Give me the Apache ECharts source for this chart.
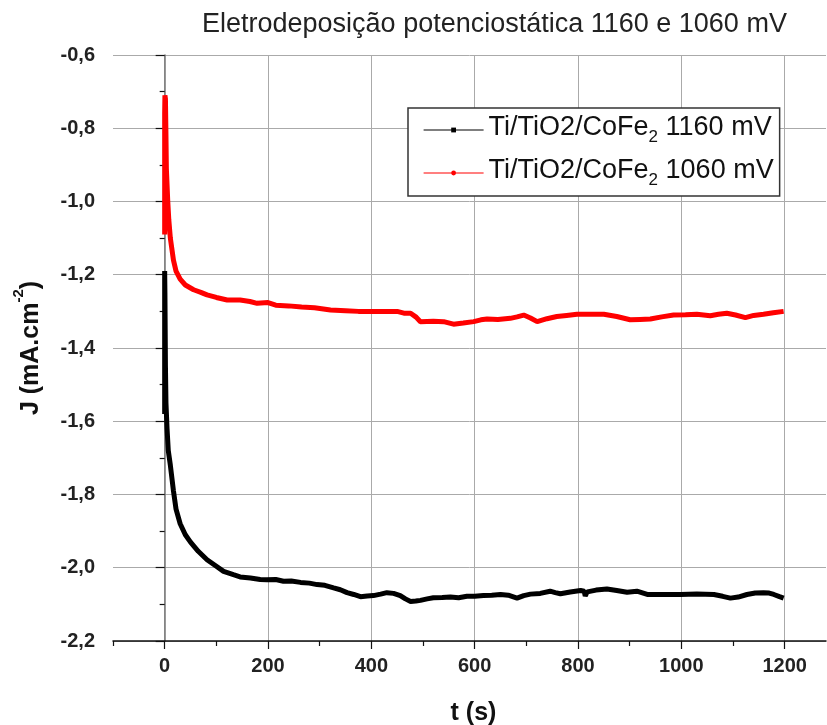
<!DOCTYPE html>
<html>
<head>
<meta charset="utf-8">
<script src="https://cdn.jsdelivr.net/npm/echarts@6/dist/echarts.min.js"></script>
<style>html,body{margin:0;padding:0;background:#fff}#c{width:827px;height:725px}</style>
</head>
<body>
<div id="c"></div>
<script>
// ---- data ----
var xTickLabels = [0, 200, 400, 600, 800, 1000, 1200];
var xMinorTicks = [-100, 100, 300, 500, 700, 900, 1100];

var time1160 = [0,0,0.5,1,1.5,2.5,4.6,7,11,17,22,30,40,50,65,82,100,114,133,146,166,185,198,215,230,245,263,280,295,310,327,340,353,366,379,392,404,418,430,443,456,466,476,486,495,508,520,537,553,569,585,600,617,633,650,665,682,695,708,727,746,756,766,785,805,812,814,818,835,856,875,895,914,934,965,998,1030,1063,1080,1095,1110,1127,1143,1159,1170,1179,1190,1198];
var j1160 = [-1.58,-1.19,-1.25,-1.35,-1.45,-1.55,-1.62,-1.68,-1.72,-1.79,-1.84,-1.88,-1.91,-1.93,-1.955,-1.978,-1.996,-2.01,-2.019,-2.025,-2.028,-2.032,-2.033,-2.032,-2.037,-2.036,-2.04,-2.042,-2.046,-2.048,-2.055,-2.06,-2.068,-2.073,-2.079,-2.077,-2.076,-2.072,-2.068,-2.07,-2.076,-2.085,-2.092,-2.091,-2.089,-2.085,-2.082,-2.081,-2.08,-2.082,-2.078,-2.078,-2.076,-2.075,-2.073,-2.075,-2.083,-2.076,-2.072,-2.07,-2.064,-2.068,-2.071,-2.066,-2.062,-2.064,-2.077,-2.066,-2.061,-2.058,-2.062,-2.067,-2.064,-2.073,-2.073,-2.073,-2.072,-2.073,-2.078,-2.083,-2.08,-2.073,-2.069,-2.068,-2.069,-2.073,-2.079,-2.083];

var time1060 = [0,0,0,0,0,0.5,1.5,2.5,3.3,6,8,11,14,17,22,30,40,56,70,82,100,121,146,165,179,200,215,240,265,290,321,350,375,398,425,450,463,476,486,495,520,540,559,578,598,612,624,645,669,682,695,708,721,740,759,778,798,825,850,875,901,920,940,962,985,1008,1030,1056,1072,1088,1105,1124,1140,1159,1178,1198];
var j1060 = [-1.09,-0.93,-0.86,-0.8,-0.76,-0.71,-0.72,-0.82,-0.91,-1.0,-1.05,-1.1,-1.13,-1.16,-1.19,-1.212,-1.228,-1.241,-1.248,-1.255,-1.262,-1.269,-1.269,-1.273,-1.278,-1.276,-1.283,-1.285,-1.288,-1.29,-1.296,-1.298,-1.3,-1.3,-1.3,-1.3,-1.305,-1.305,-1.315,-1.328,-1.327,-1.328,-1.335,-1.332,-1.328,-1.323,-1.321,-1.322,-1.319,-1.315,-1.31,-1.318,-1.328,-1.32,-1.314,-1.311,-1.308,-1.308,-1.308,-1.314,-1.323,-1.322,-1.321,-1.315,-1.31,-1.309,-1.308,-1.312,-1.308,-1.305,-1.31,-1.317,-1.311,-1.308,-1.304,-1.3];

var name1160 = 'Ti/TiO2/CoFe2 1160 mV';
var name1060 = 'Ti/TiO2/CoFe2 1060 mV';

function pairs(t, v) { return t.map(function (x, i) { return [x, v[i]]; }); }

var chart = echarts.init(document.getElementById('c'));
var font = 'Liberation Sans, Arial, sans-serif';
chart.setOption({
  animation: false,
  backgroundColor: '#fff',
  title: {
    text: 'Eletrodeposição potenciostática 1160 e 1060 mV',
    left: 197, top: 6,
    textStyle: { fontFamily: font, fontSize: 27, fontWeight: 'normal', color: '#222' }
  },
  grid: { left: 113, top: 55, right: 1, bottom: 84, containLabel: false, outerBoundsMode: 'none' },
  legend: {
    orient: 'vertical', left: 408, top: 108,
    backgroundColor: '#fff', borderColor: '#333', borderWidth: 1.5, borderRadius: 0,
    padding: [6, 6, 7, 15], itemGap: 11, itemWidth: 60, itemHeight: 6,
    lineStyle: { width: 1.2 },
    data: [name1160, name1060],
    formatter: function (n) {
      var parts = n.split('CoFe2');
      return '{a|' + parts[0] + 'CoFe}{s|2}{a|' + parts[1] + '}';
    },
    textStyle: {
      fontFamily: font, color: '#111',
      rich: {
        a: { fontFamily: font, fontSize: 27, color: '#111', lineHeight: 32, verticalAlign: 'bottom', padding: [0, 0, 5, 0] },
        s: { fontFamily: font, fontSize: 17, color: '#111', lineHeight: 32, verticalAlign: 'bottom' }
      }
    }
  },
  xAxis: [{
    type: 'value', min: -100, max: 1280,
    name: 't (s)', nameLocation: 'middle', nameGap: 60,
    nameTextStyle: { fontFamily: font, fontSize: 25, fontWeight: 'bold', color: '#111', padding: [0, 0, 0, 8] },
    axisLine: { show: true, lineStyle: { color: '#111', width: 1.5 } },
    axisTick: { show: true, inside: false, length: 8, customValues: xTickLabels, lineStyle: { color: '#111', width: 1.2 } },
    axisLabel: {
      show: true, customValues: xTickLabels, margin: 15, fontFamily: font, fontSize: 20, fontWeight: 'bold', color: '#222',
      formatter: function (v) { return String(v); }
    },
    splitLine: { show: true, lineStyle: { color: '#aaa', width: 1 } }
  }, {
    type: 'value', min: -100, max: 1280, position: 'bottom',
    axisLine: { show: false },
    axisTick: { show: true, inside: false, length: 5, customValues: xMinorTicks, lineStyle: { color: '#111', width: 1.2 } },
    axisLabel: { show: false },
    splitLine: { show: false }
  }],
  yAxis: {
    type: 'value', min: -2.2, max: -0.6, interval: 0.2,
    name: '{a|J (mA.cm}{s|-2}{a|)}', nameLocation: 'middle', nameGap: 70, nameRotate: 90,
    nameTextStyle: {
      rich: {
        a: { fontFamily: font, fontSize: 25, fontWeight: 'bold', color: '#111', lineHeight: 32, verticalAlign: 'top', padding: [8, 0, 0, 0] },
        s: { fontFamily: font, fontSize: 15, fontWeight: 'bold', color: '#111', lineHeight: 32, verticalAlign: 'top' }
      }
    },
    axisLine: { show: true, lineStyle: { color: '#777', width: 1.5 } },
    axisTick: { show: true, inside: false, length: 9, lineStyle: { color: '#111', width: 1.2 } },
    minorTick: { show: true, splitNumber: 2, length: 5, lineStyle: { color: '#111', width: 1.2 } },
    axisLabel: {
      margin: 18, fontFamily: font, fontSize: 20, fontWeight: 'bold', color: '#222',
      formatter: function (v) { return v.toFixed(1).replace('.', ','); }
    },
    splitLine: { show: true, lineStyle: { color: '#aaa', width: 1 } }
  },
  series: [{
    name: name1160, type: 'line', xAxisIndex: 0,
    data: pairs(time1160, j1160),
    symbol: 'rect', symbolSize: 4, showSymbol: false,
    itemStyle: { color: '#000' },
    lineStyle: { color: '#000', width: 5 }
  }, {
    name: name1060, type: 'line', xAxisIndex: 0,
    data: pairs(time1060, j1060),
    symbol: 'circle', symbolSize: 4, showSymbol: false,
    itemStyle: { color: '#ff0000' },
    lineStyle: { color: '#ff0000', width: 5 }
  }]
});
</script>
</body>
</html>
